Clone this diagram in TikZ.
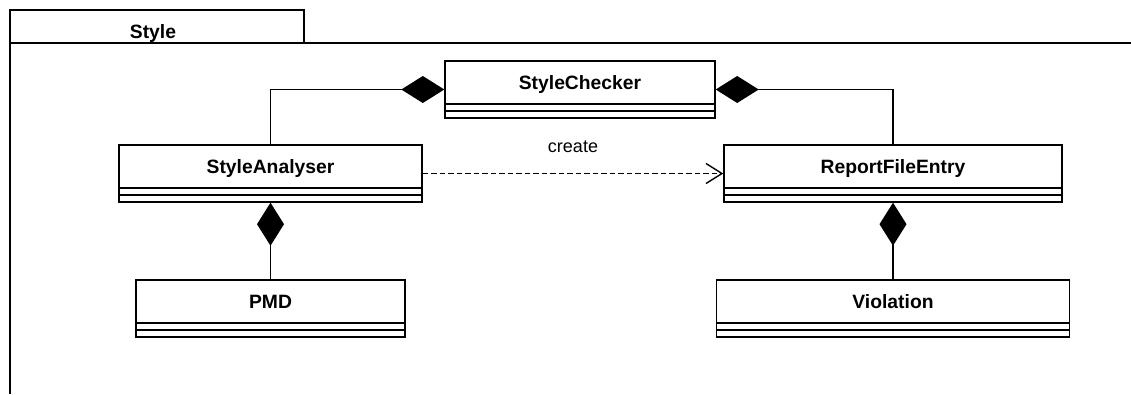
\documentclass[tikz,border=0pt]{standalone}
\usepackage{fontspec}
\setmainfont{Liberation Sans}
\usetikzlibrary{arrows.meta}
\tikzstyle{classbox} = [rectangle, draw, line width=1.4pt, inner sep=0pt, minimum height=57pt, text height=10pt, text depth=10pt, font=\fontsize{19.3}{22}\selectfont\bfseries,
    path picture={
        \draw[line width=1.4pt] ([yshift=14pt]path picture bounding box.south west) -- ([yshift=14pt]path picture bounding box.south east);
        \draw[line width=1.4pt] ([yshift=7pt]path picture bounding box.south west) -- ([yshift=7pt]path picture bounding box.south east);
    }]
\tikzstyle{composition} = [line width=1.5pt, -{Diamond[length=43pt, width=27pt]}]
\tikzstyle{dependency} = [line width=1.4pt, dash pattern=on 5.5pt off 3pt, -{Straight Barb[length=16pt, width=20pt]}]
\tikzstyle{frame} = [line width=1.5pt]

\begin{document}
\begin{tikzpicture}[x=1pt, y=-1pt]
        \useasboundingbox (0,0) rectangle (1131,394);
        % package frame with its tab
        \draw [frame] (10,394) -- (10,10) -- (304,10) -- (304,43);
        \draw [frame] (10,43) -- (1131,43);
        \node (pkg-name) [anchor=base, font=\fontsize{19.3}{22}\selectfont\bfseries] at (153,38) {Style};
        % classes
        \node (checker) [classbox, minimum width=270pt] at (580,89.5) {StyleChecker};
        \node (analyser) [classbox, minimum width=303pt] at (270.5,173.5) {StyleAnalyser};
        \node (entry) [classbox, minimum width=338pt] at (893,173.5) {ReportFileEntry};
        \node (pmd) [classbox, minimum width=269pt] at (270.5,308.5) {PMD};
        \node (violation) [classbox, minimum width=353pt] at (893,308.5) {Violation};
        % associations
        \draw [composition] (analyser.north) |- (checker.west);
        \draw [composition] (entry.north) |- (checker.east);
        \draw [composition] (pmd.north) -- (analyser.south);
        \draw [composition] (violation.north) -- (entry.south);
        \draw [dependency] (analyser.east) -- node[above=20pt, inner sep=0pt, font=\fontsize{18}{20}\selectfont] (create-label) {create} (entry.west);
    \end{tikzpicture}
\end{document}
